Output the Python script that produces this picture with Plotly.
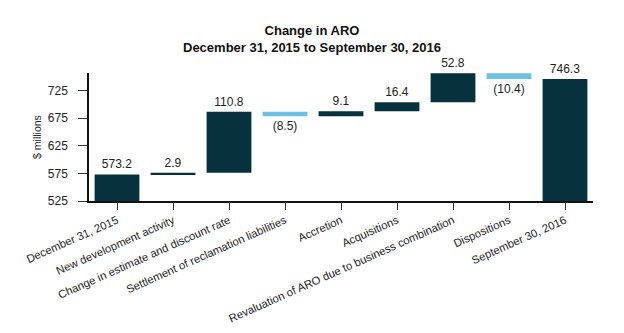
import plotly.graph_objects as go

categories = ["December 31, 2015", "New development activity", "Change in estimate and discount rate",
              "Settlement of reclamation liabilities", "Accretion", "Acquisitions",
              "Revaluation of ARO due to business combination", "Dispositions", "September 30, 2016"]
values = [573.2, 2.9, 110.8, -8.5, 9.1, 16.4, 52.8, -10.4, 746.3]
measures = ["absolute", "relative", "relative", "relative", "relative", "relative", "relative", "relative", "total"]
y_ticks = [525, 575, 625, 675, 725]

labels = [f"({abs(v):.1f})" if v < 0 else f"{v:.1f}" for v in values]

DARK = "#06313d"
LIGHT = "#6cc0e2"

fig = go.Figure(go.Waterfall(
    x=categories, y=values, measure=measures,
    text=labels, textposition="outside",
    textfont=dict(family="Liberation Sans, Arial", size=12, color="#222"),
    increasing=dict(marker=dict(color=DARK)),
    decreasing=dict(marker=dict(color=LIGHT)),
    totals=dict(marker=dict(color=DARK)),
    connector=dict(visible=False),
    width=0.8, cliponaxis=False,
))

fig.update_layout(
    width=624, height=333,
    margin=dict(l=89, r=31, t=73, b=132),
    paper_bgcolor="white", plot_bgcolor="white",
    showlegend=False,
    font=dict(family="Liberation Sans, Arial", size=12, color="#222"),
    title=dict(text="<b>Change in ARO</b><br><b>December 31, 2015 to September 30, 2016</b>",
               x=0.5, xanchor="center", y=0.895, yanchor="top",
               font=dict(size=13, color="#111")),
)
fig.update_xaxes(
    range=[-0.5, 8.5], showline=True, linecolor="#111", linewidth=1.5,
    ticks="outside", ticklen=7, tickcolor="#333", tickangle=-24,
    tickfont=dict(size=11.3), showgrid=False, automargin=False,
)
fig.update_yaxes(
    range=[525, 757], tickvals=y_ticks, showline=True, linecolor="#111", linewidth=1.5,
    ticks="outside", ticklen=9, tickcolor="#333", ticklabelstandoff=8,
    showgrid=False, zeroline=False, automargin=False,
    title=dict(text="$ millions", font=dict(size=10.5), standoff=4),
)

fig.write_html("out.html")
